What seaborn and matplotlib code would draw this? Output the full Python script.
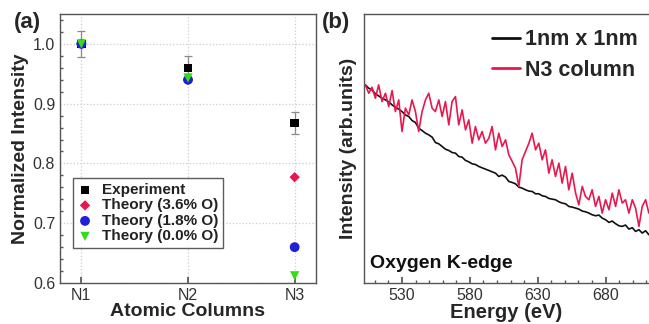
import numpy as np
import pandas as pd
import matplotlib
matplotlib.use('Agg')
import matplotlib.pyplot as plt
from matplotlib.ticker import MultipleLocator
import seaborn as sns

# panel (a): normalized intensity per atomic column
columns = ['N1', 'N2', 'N3']
experiment = [1.0, 0.96, 0.868]
experiment_err = [0.022, 0.02, 0.018]
theory_36 = [1.0, 0.94, 0.777]
theory_18 = [1.0, 0.94, 0.66]
theory_00 = [1.0, 0.943, 0.612]
series_names = ['Experiment', 'Theory (3.6% O)', 'Theory (1.8% O)', 'Theory (0.0% O)']

# panel (b): oxygen K-edge spectra (arb. units)
energy = [503.0, 505.5, 507.9, 510.4, 512.8, 515.3, 517.8, 520.2, 522.7, 525.1,
          527.6, 530.0, 532.5, 535.0, 537.4, 539.9, 542.3, 544.8, 547.3, 549.7,
          552.2, 554.6, 557.1, 559.6, 562.0, 564.5, 566.9, 569.4, 571.8, 574.3,
          576.8, 579.2, 581.7, 584.1, 586.6, 589.0, 591.5, 594.0, 596.4, 598.9,
          601.3, 603.8, 606.3, 608.7, 611.2, 613.6, 616.1, 618.5, 621.0, 623.5,
          625.9, 628.4, 630.8, 633.3, 635.7, 638.2, 640.6, 643.1, 645.6, 648.0,
          650.5, 652.9, 655.4, 657.9, 660.3, 662.8, 665.2, 667.7, 670.1, 672.6,
          675.1, 677.5, 680.0, 682.5, 684.9, 687.4, 689.8, 692.3, 694.7, 697.2,
          699.7, 702.1, 704.6, 707.0, 709.5, 711.9]
area_1nm = [595, 585, 580, 568, 562, 555, 550, 544, 535, 528,
            522, 515, 505, 500, 488, 482, 465, 458, 450, 445,
            438, 422, 418, 410, 402, 398, 392, 390, 380, 378,
            368, 364, 358, 356, 350, 346, 342, 338, 334, 330,
            320, 324, 318, 305, 302, 298, 288, 285, 280, 276,
            275, 268, 268, 262, 260, 254, 252, 250, 244, 240,
            238, 230, 228, 225, 222, 216, 214, 210, 205, 202,
            204, 195, 190, 182, 186, 178, 172, 170, 174, 162,
            166, 155, 160, 150, 157, 145]
n3_column = [595, 570, 588, 555, 595, 545, 570, 530, 578, 515,
             550, 455, 525, 505, 550, 515, 455, 515, 550, 570,
             525, 515, 550, 500, 545, 475, 545, 560, 475, 520,
             460, 490, 420, 470, 430, 455, 420, 435, 470, 400,
             450, 410, 430, 385, 365, 345, 290, 370, 395, 420,
             450, 400, 420, 370, 400, 330, 370, 320, 360, 300,
             350, 280, 330, 270, 235, 290, 260, 250, 280, 230,
             260, 210, 250, 220, 270, 230, 280, 240, 250, 210,
             250, 225, 170, 230, 250, 210]

sns.set_theme(style='white')
plt.rcParams['font.family'] = ['Liberation Sans', 'DejaVu Sans']

fig = plt.figure(figsize=(6.49, 3.24), dpi=100)
ax1 = fig.add_axes([60 / 649, 41 / 324, 256 / 649, 269 / 324])
ax2 = fig.add_axes([364 / 649, 41 / 324, 285 / 649, 269 / 324])

frame_col = '#555555'
text_col = '#333333'

# ---- panel (a)
df_a = pd.DataFrame({
    'column': columns * 4,
    'intensity': experiment + theory_36 + theory_18 + theory_00,
    'series': np.repeat(series_names, 3),
})
pal = {'Experiment': 'black', 'Theory (3.6% O)': '#e8184f',
       'Theory (1.8% O)': '#1f1fd8', 'Theory (0.0% O)': '#33dd15'}
marks = {'Experiment': 's', 'Theory (3.6% O)': 'D',
         'Theory (1.8% O)': 'o', 'Theory (0.0% O)': 'v'}
sizes = {'Experiment': 36, 'Theory (3.6% O)': 28,
         'Theory (1.8% O)': 50, 'Theory (0.0% O)': 45}

ax1.errorbar(columns, experiment, yerr=experiment_err, fmt='none',
             ecolor='#8a8a8a', elinewidth=0.9, capsize=3, capthick=0.9, zorder=2)
for name in series_names:
    sub = df_a[df_a['series'] == name]
    sns.scatterplot(data=sub, x='column', y='intensity', ax=ax1, color=pal[name],
                    marker=marks[name], s=sizes[name], edgecolor='none',
                    label=name, zorder=3)

ax1.set_xlim(-0.2, 2.2)
ax1.set_ylim(0.6, 1.05)
ax1.yaxis.set_minor_locator(MultipleLocator(0.02))
ax1.set_yticks([0.6, 0.7, 0.8, 0.9, 1.0])
ax1.set_yticklabels(['0.6', '0.7', '0.8', '0.9', '1.0'])
ax1.grid(True, which='major', linestyle=':', color='#cccccc', linewidth=0.9)
ax1.tick_params(axis='both', which='both', direction='in', colors=frame_col,
                labelcolor=text_col, labelsize=11.5)
ax1.tick_params(axis='y', which='major', length=4)
ax1.tick_params(axis='y', which='minor', length=2, left=True)
ax1.tick_params(axis='x', length=4, bottom=True)
ax1.set_xlabel('Atomic Columns', fontsize=14, fontweight='bold', labelpad=0)
ax1.set_ylabel('Normalized Intensity', fontsize=14, fontweight='bold', labelpad=3)
for sp in ax1.spines.values():
    sp.set_color(frame_col)
    sp.set_linewidth(1.0)

leg = ax1.legend(loc='lower left', bbox_to_anchor=(0.05, 0.13), fancybox=False,
                 frameon=True, fontsize=11, handlelength=1.0, handletextpad=0.6,
                 borderpad=0.3, labelspacing=0.1, borderaxespad=0)
leg.get_frame().set_edgecolor('#333333')
leg.get_frame().set_linewidth(1.0)
for t in leg.get_texts():
    t.set_fontweight('bold')
    t.set_color('#222222')

# ---- panel (b)
df_b = pd.DataFrame({
    'energy': energy * 2,
    'intensity': area_1nm + n3_column,
    'region': ['1nm x 1nm'] * len(energy) + ['N3 column'] * len(energy),
})
sns.lineplot(data=df_b, x='energy', y='intensity', hue='region', ax=ax2,
             palette={'1nm x 1nm': '#111111', 'N3 column': '#e8184f'},
             linewidth=1.2, estimator=None, sort=False)
ax2.set_xlim(502, 712)
ax2.set_ylim(0, 808)
ax2.set_xticks([530, 580, 630, 680])
ax2.xaxis.set_minor_locator(MultipleLocator(10))
ax2.set_yticks([])
ax2.tick_params(axis='x', which='both', direction='in', colors=frame_col,
                labelcolor=text_col, labelsize=11.5, bottom=True)
ax2.tick_params(axis='x', which='major', length=4)
ax2.tick_params(axis='x', which='minor', length=2)
ax2.set_xlabel('Energy (eV)', fontsize=14.5, fontweight='bold', labelpad=0)
ax2.set_ylabel('Intensity (arb.units)', fontsize=14, fontweight='bold', labelpad=5)
ax2.spines['right'].set_visible(False)
for sp in ['left', 'bottom', 'top']:
    ax2.spines[sp].set_color(frame_col)
    ax2.spines[sp].set_linewidth(1.0)
ax2.text(0.02, 0.04, 'Oxygen K-edge', transform=ax2.transAxes, fontsize=14,
         fontweight='bold', color='#111111', ha='left', va='bottom')

leg2 = ax2.legend(loc='upper left', bbox_to_anchor=(0.42, 0.975), frameon=False,
                  fontsize=15.5, handlelength=1.3, handletextpad=0.2,
                  labelspacing=0.45, borderaxespad=0)
for t in leg2.get_texts():
    t.set_fontweight('bold')
for ln in leg2.get_lines():
    ln.set_linewidth(2.0)

fig.text(14 / 649, 1 - 12 / 324, '(a)', fontsize=16, fontweight='bold', va='top', ha='left')
fig.text(322 / 649, 1 - 12 / 324, '(b)', fontsize=16, fontweight='bold', va='top', ha='left')

fig.savefig('out.png', dpi=100)
